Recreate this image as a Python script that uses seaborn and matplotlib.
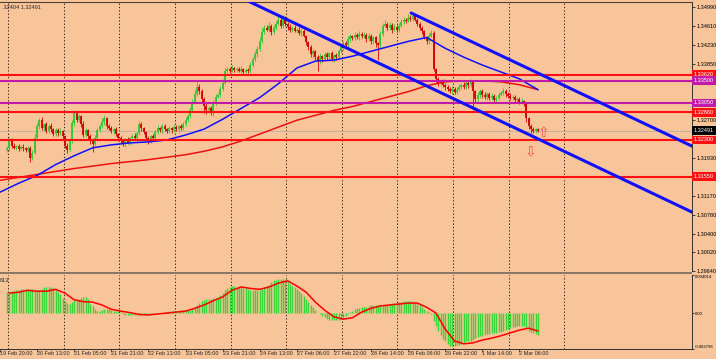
import numpy as np
import matplotlib
matplotlib.use("Agg")
import matplotlib.pyplot as plt
import matplotlib.transforms as mtransforms
import seaborn as sns

# ---- hourly candles (bars 3..232), prices ----
first_open = 1.3210
closes = [1.3214, 1.3230, 1.3218, 1.3214, 1.3218, 1.3212, 1.3216, 1.3214, 1.3210, 1.3214,
          1.3194, 1.3204, 1.3234, 1.3258, 1.3270, 1.3254, 1.3262, 1.3248, 1.3258, 1.3252,
          1.3242, 1.3250, 1.3244, 1.3248, 1.3238, 1.3218, 1.3210, 1.3228, 1.3264, 1.3284,
          1.3270, 1.3278, 1.3262, 1.3240, 1.3250, 1.3238, 1.3230, 1.3222, 1.3234, 1.3250,
          1.3258, 1.3266, 1.3274, 1.3258, 1.3254, 1.3248, 1.3252, 1.3242, 1.3234, 1.3228,
          1.3222, 1.3230, 1.3224, 1.3234, 1.3238, 1.3234, 1.3244, 1.3262, 1.3254, 1.3246,
          1.3234, 1.3228, 1.3238, 1.3234, 1.3246, 1.3254, 1.3250, 1.3258, 1.3252, 1.3248,
          1.3254, 1.3250, 1.3256, 1.3252, 1.3258, 1.3254, 1.3262, 1.3270, 1.3278, 1.3290,
          1.3308, 1.3324, 1.3338, 1.3330, 1.3314, 1.3298, 1.3290, 1.3294, 1.3284, 1.3304,
          1.3318, 1.3322, 1.3334, 1.3346, 1.3370, 1.3374, 1.3370, 1.3376, 1.3372, 1.3374,
          1.3370, 1.3374, 1.3368, 1.3372, 1.3370, 1.3382, 1.3394, 1.3404, 1.3414, 1.3430,
          1.3450, 1.3458, 1.3454, 1.3462, 1.3450, 1.3458, 1.3466, 1.3474, 1.3462, 1.3476,
          1.3466, 1.3460, 1.3454, 1.3458, 1.3452, 1.3454, 1.3448, 1.3452, 1.3442, 1.3428,
          1.3418, 1.3404, 1.3410, 1.3398, 1.3390, 1.3400, 1.3394, 1.3404, 1.3398, 1.3406,
          1.3394, 1.3402, 1.3398, 1.3410, 1.3418, 1.3426, 1.3422, 1.3434, 1.3440, 1.3436,
          1.3444, 1.3438, 1.3446, 1.3440, 1.3444, 1.3434, 1.3442, 1.3430, 1.3438, 1.3426,
          1.3422, 1.3446, 1.3462, 1.3466, 1.3458, 1.3464, 1.3454, 1.3460, 1.3454, 1.3462,
          1.3470, 1.3474, 1.3472, 1.3478, 1.3476, 1.3482, 1.3474, 1.3466, 1.3458, 1.3452,
          1.3438, 1.3430, 1.3442, 1.3448, 1.3374, 1.3354, 1.3344, 1.3348, 1.3342, 1.3338,
          1.3334, 1.3330, 1.3334, 1.3328, 1.3332, 1.3338, 1.3342, 1.3338, 1.3346, 1.3342,
          1.3348, 1.3330, 1.3314, 1.3322, 1.3330, 1.3322, 1.3318, 1.3324, 1.3316, 1.3320,
          1.3312, 1.3316, 1.3322, 1.3326, 1.3330, 1.3324, 1.3320, 1.3316, 1.3318, 1.3312,
          1.3314, 1.3308, 1.3310, 1.3302, 1.3274, 1.3258, 1.3252, 1.3248, 1.3252, 1.32491]
# wick lengths in pips above / below the body
upper_wick = [4, 6, 3, 5, 2, 4, 3, 5, 2, 4, 3, 5, 8, 6, 4, 7, 3, 5, 4, 6,
              3, 5, 4, 6, 3, 2, 5, 4, 7, 6, 4, 5, 3, 6, 4, 3, 5, 2, 6, 4,
              5, 8, 6, 3, 4, 5, 3, 4, 2, 5, 3, 4, 5, 3, 4, 6, 3, 7, 4, 3,
              2, 4, 3, 5, 4, 6, 3, 5, 4, 3, 4, 3, 5, 4, 3, 5, 4, 6, 5, 7,
              6, 8, 10, 5, 4, 3, 6, 5, 4, 7, 5, 4, 6, 8, 6, 5, 4, 6, 3, 5,
              4, 6, 3, 5, 4, 6, 5, 7, 6, 8, 7, 6, 5, 8, 4, 6, 5, 7, 6, 8,
              5, 4, 6, 3, 5, 4, 6, 3, 4, 2, 3, 4, 5, 3, 4, 6, 3, 5, 4, 3,
              4, 3, 5, 4, 6, 5, 4, 6, 5, 4, 6, 4, 5, 3, 6, 4, 5, 3, 4, 2,
              3, 6, 5, 7, 4, 5, 3, 6, 4, 5, 6, 5, 4, 7, 5, 6, 4, 3, 4, 3,
              2, 3, 5, 6, 4, 3, 4, 3, 5, 3, 4, 3, 5, 4, 6, 5, 4, 6, 3, 5,
              6, 3, 2, 5, 4, 3, 5, 4, 3, 5, 4, 3, 5, 4, 6, 4, 3, 5, 4, 3,
              4, 3, 5, 2, 3, 2, 4, 5, 3, 2]
lower_wick = [5, 6, 4, 3, 5, 4, 3, 6, 4, 5, 8, 5, 3, 4, 5, 3, 6, 4, 3, 5,
              4, 3, 5, 4, 8, 5, 6, 3, 4, 5, 3, 4, 6, 5, 4, 7, 8, 16, 4, 3,
              4, 3, 5, 6, 4, 3, 5, 4, 6, 5, 4, 6, 3, 5, 4, 3, 6, 4, 5, 4,
              5, 6, 4, 3, 5, 4, 3, 5, 4, 3, 4, 5, 3, 4, 5, 3, 4, 3, 4, 3,
              4, 3, 4, 6, 10, 14, 8, 6, 4, 5, 4, 3, 5, 4, 3, 5, 4, 3, 5, 4,
              3, 5, 4, 3, 5, 4, 3, 4, 5, 3, 4, 5, 3, 4, 6, 5, 4, 3, 5, 4,
              5, 6, 4, 5, 3, 4, 5, 6, 4, 5, 6, 5, 8, 6, 20, 5, 6, 4, 5, 6,
              4, 6, 5, 4, 3, 5, 4, 3, 5, 4, 4, 3, 5, 4, 3, 6, 4, 5, 6, 8,
              30, 5, 4, 3, 5, 4, 6, 3, 4, 5, 3, 4, 5, 3, 4, 5, 3, 4, 5, 6,
              4, 5, 6, 4, 5, 6, 5, 4, 5, 6, 4, 5, 6, 4, 5, 3, 4, 5, 4, 6,
              4, 40, 8, 5, 6, 7, 5, 6, 4, 5, 6, 4, 5, 3, 4, 6, 5, 4, 5, 6,
              4, 5, 6, 4, 8, 6, 8, 4, 3, 2]

# moving averages, read every 8 bars
ma_bars = list(range(0, 233, 8))
ma_fast = [1.3124, 1.3142, 1.3158, 1.3180, 1.3198, 1.3214, 1.3220, 1.3224, 1.3226, 1.3230,
           1.3240, 1.3252, 1.3272, 1.3294, 1.3316, 1.3344, 1.3376, 1.3390, 1.3392, 1.3400,
           1.3410, 1.3420, 1.3430, 1.3438, 1.3416, 1.3398, 1.3382, 1.3368, 1.3354, 1.3332]
ma_slow = [1.3148, 1.3154, 1.3160, 1.3166, 1.3172, 1.3177, 1.3182, 1.3186, 1.3190, 1.3195,
           1.3200, 1.3207, 1.3216, 1.3228, 1.3242, 1.3256, 1.3270, 1.3280, 1.3290, 1.3298,
           1.3308, 1.3318, 1.3328, 1.3340, 1.3348, 1.3350, 1.3350, 1.3348, 1.3342, 1.3332]

# MACD panel (units of 1e-3)
macd_hist = [2.2, 2.2, 2.3, 2.3, 2.4, 2.4, 2.5, 2.5, 2.5, 2.5, 2.5, 2.5, 2.4, 2.4, 2.4, 2.5, 2.7, 2.8, 2.8, 2.7,
             2.6, 2.4, 2.2, 2.0, 1.6, 1.3, 1.1, 1.0, 1.2, 1.4, 1.5, 1.5, 1.6, 1.7, 1.7, 1.5, 1.0, 0.7, 0.4, 0.2,
             0.2, 0.3, 0.4, 0.4, 0.4, 0.3, 0.2, 0.2, 0.2, 0.1, -0.1, -0.2, -0.25, -0.25, -0.2, -0.2, -0.2, -0.2, -0.2, -0.2,
             -0.2, -0.15, -0.1, -0.1, -0.05, 0.0, 0.05, 0.05, 0.1, 0.15, 0.2, 0.2, 0.2, 0.2, 0.25, 0.3, 0.3, 0.3, 0.3, 0.35,
             0.45, 0.6, 0.9, 1.1, 1.3, 1.4, 1.5, 1.5, 1.5, 1.55, 1.6, 1.65, 1.9, 2.1, 2.4, 2.6, 2.8, 2.85, 2.85, 2.8,
             2.75, 2.7, 2.6, 2.6, 2.5, 2.45, 2.4, 2.4, 2.4, 2.45, 2.55, 2.7, 2.85, 3.0, 3.3, 3.45, 3.5, 3.55, 3.6, 3.6,
             3.5, 3.3, 3.1, 2.9, 2.7, 2.5, 2.3, 2.1, 1.8, 1.5, 1.2, 0.9, 0.6, 0.35, 0.0, -0.15, -0.3, -0.45, -0.6, -0.7,
             -0.75, -0.75, -0.75, -0.7, -0.65, -0.5, -0.3, -0.1, 0.1, 0.25, 0.4, 0.5, 0.55, 0.6, 0.65, 0.65, 0.7, 0.8, 0.85, 0.85,
             0.85, 0.85, 0.85, 0.85, 0.9, 1.0, 1.05, 1.05, 1.1, 1.15, 1.2, 1.25, 1.25, 1.3, 1.3, 1.25, 1.15, 1.0, 0.8, 0.6,
             0.4, 0.2, 0.1, -0.05, -0.8, -1.4, -1.9, -2.3, -2.7, -3.0, -3.3, -3.5, -3.5, -3.5, -3.4, -3.35, -3.25, -3.15, -3.0, -2.95,
             -2.9, -2.8, -2.65, -2.5, -2.45, -2.4, -2.3, -2.25, -2.2, -2.15, -2.1, -2.1, -2.05, -2.0, -1.9, -1.8, -1.7, -1.6, -1.5, -1.45,
             -1.4, -1.35, -1.35, -1.4, -1.6, -1.85, -2.0, -2.1, -2.25, -2.3]
signal_bars = list(range(4, 233, 4))
macd_signal = [2.1, 2.2, 2.4, 2.3, 2.3, 2.5, 2.1, 1.4, 1.2, 1.15, 0.85, 0.4, 0.2, 0.05, -0.15, -0.2, -0.1, 0.0, 0.1, 0.2,
               0.5, 0.85, 1.3, 1.7, 2.4, 2.75, 2.6, 2.5, 2.75, 3.15, 3.4, 2.85, 2.2, 1.15, 0.3, -0.4, -0.65, -0.5, 0.1, 0.5,
               0.75, 0.85, 0.95, 1.05, 1.05, 0.6, 0.0, -1.7, -2.95, -3.25, -3.15, -2.85, -2.65, -2.4, -2.1, -1.8, -1.6, -1.9]

# objects on the chart
red_levels = [1.33620, 1.32860, 1.32300, 1.31550]
magenta_levels = [1.33500, 1.33050]
bid_price = 1.32491
trend_a_bars, trend_a_prices = [105.6, 300.0], [1.3515, 1.3080]
trend_b_bars, trend_b_prices = [177.3, 300.0], [1.34877, 1.32139]
price_ticks = [1.34990, 1.34610, 1.34230, 1.33850, 1.32700, 1.31930,
               1.31170, 1.30780, 1.30400, 1.30020, 1.29640]
time_labels = ["19 Feb 20:00", "20 Feb 13:00", "21 Feb 05:00", "21 Feb 21:00", "22 Feb 13:00",
               "23 Feb 05:00", "23 Feb 21:00", "24 Feb 13:00", "27 Feb 06:00", "27 Feb 22:00",
               "28 Feb 14:00", "29 Feb 06:00", "29 Feb 22:00", "1 Mar 14:00", "2 Mar 06:00"]

bg = "#f8c59a"
green = "#2ec82e"
red_c = "#d00000"
line_red = "#ff1010"
magenta = "#c21aa8"
blue = "#1010ff"

sns.set_style("white", {"axes.facecolor": bg, "figure.facecolor": bg})
plt.rcParams["font.family"] = ["Liberation Sans", "DejaVu Sans"]

W, H = 716, 359
fig = plt.figure(figsize=(W / 100, H / 100), dpi=100, facecolor=bg)
ax = fig.add_axes([0, (H - 271) / H, 692 / W, 269 / H])
ax2 = fig.add_axes([0, (H - 349) / H, 692 / W, 74 / H], sharex=ax)

bars = np.arange(3, 3 + len(closes))
closes = np.array(closes)
opens = np.concatenate([[first_open], closes[:-1]])
highs = np.maximum(opens, closes) + np.array(upper_wick) / 1e4
lows = np.minimum(opens, closes) - np.array(lower_wick) / 1e4
cols = np.where(closes >= opens, green, red_c)

grid_bars = np.arange(4, 245, 24) - 0.6
for a in (ax, ax2):
    for g in grid_bars:
        a.axvline(g, color="black", lw=0.6, ls=(0, (1.5, 2.5)), zorder=1)

# candles
ax.vlines(bars, lows, highs, colors=cols, lw=0.6, zorder=3)
ax.vlines(bars, opens, closes, colors=cols, lw=1.3, zorder=3)

# moving averages
sns.lineplot(x=ma_bars, y=ma_slow, ax=ax, color="#ee1010", lw=1.1, legend=False, zorder=4)
sns.lineplot(x=ma_bars, y=ma_fast, ax=ax, color=blue, lw=1.1, legend=False, zorder=4)

# horizontal levels
ax.axhline(bid_price, color="#b8b0a8", lw=0.6, zorder=2)
for lv in red_levels:
    ax.axhline(lv, color=line_red, lw=1.5, zorder=5)
for lv in magenta_levels:
    ax.axhline(lv, color=magenta, lw=1.5, zorder=5)

# trend channel
ax.plot(trend_a_bars, trend_a_prices, color=blue, lw=2.2, zorder=6)
ax.plot(trend_b_bars, trend_b_prices, color=blue, lw=2.2, zorder=6)

# arrows
ax.text(234.4, 1.3245, "\u21e7", color="#ff4a4a", fontsize=10, ha="center", va="center", zorder=7)
ax.text(228.9, 1.3207, "\u21e9", color="#ff4a4a", fontsize=10, ha="center", va="center", zorder=7)

ax.set_xlim(3.2, 298.4)
ax.set_ylim(1.2964, 1.3510)

# right price scale
ax.yaxis.tick_right()
ax.set_yticks(price_ticks)
ax.set_yticklabels([f"{t:.5f}" for t in price_ticks])
ax.tick_params(axis="y", labelsize=4, length=2, width=0.5, pad=1, colors="black", right=True)
ax.tick_params(axis="x", bottom=False, labelbottom=False)

trans = mtransforms.blended_transform_factory(ax.transAxes, ax.transData)
boxes = [(lv, line_red, "white") for lv in red_levels] + \
        [(lv, magenta, "white") for lv in magenta_levels] + [(bid_price, "black", "white")]
for lv, fc, tc in boxes:
    ax.text(1.003, lv, f"{lv:.5f}", transform=trans, fontsize=4, color=tc, ha="left", va="center",
            bbox=dict(boxstyle="square,pad=0.35", fc=fc, ec="none"), clip_on=False, zorder=8)

ax.text(0.003, 0.99, ".32404 1.32491", transform=ax.transAxes, fontsize=4, ha="left", va="top")

# MACD panel
hist = np.array(macd_hist) / 1e3
ax2.vlines(bars, 0, hist, colors="#38d438", lw=1.0, zorder=3)
sns.lineplot(x=signal_bars, y=np.array(macd_signal) / 1e3, ax=ax2, color="#ff0000", lw=1.1,
             legend=False, zorder=4)
ax2.set_ylim(-0.003796, 0.004014)
ax2.yaxis.tick_right()
ax2.set_yticks([0.004014, 0.0, -0.003796])
ax2.set_yticklabels(["0.004014", "0.00", "-0.003796"])
ax2.tick_params(axis="y", labelsize=3.1, length=1.5, width=0.5, pad=0.5, colors="black", right=True)
lbls = ax2.get_yticklabels()
lbls[0].set_va("top")
lbls[2].set_va("bottom")
ax2.set_xticks(range(0, 225, 16))
ax2.tick_params(axis="x", labelbottom=False, length=2, width=0.5, bottom=True, direction="out")
ax2.text(0.0, 0.93, "613", transform=ax2.transAxes, fontsize=4, ha="left", va="center")

ttrans = mtransforms.blended_transform_factory(ax2.transData, ax2.transAxes)
for k, lab in enumerate(time_labels):
    ax2.text(k * 16, -0.055, lab, transform=ttrans, fontsize=4, ha="left", va="center", clip_on=False)

for a in (ax, ax2):
    a.spines["left"].set_visible(False)
    a.spines["right"].set_color("#303030")
    a.spines["right"].set_linewidth(0.7)
    a.set_xlabel("")
    a.set_ylabel("")
ax.spines["bottom"].set_visible(False)
ax.spines["top"].set_color("#504030")
ax.spines["top"].set_linewidth(0.8)
ax2.spines["top"].set_visible(False)
ax2.spines["bottom"].set_color("#303030")
ax2.spines["bottom"].set_linewidth(0.7)

# separator between the two panes
fig.add_artist(plt.Rectangle((0, (H - 274) / H), 692 / W, 2.5 / H, transform=fig.transFigure,
                             color="#8a7866", lw=0))

fig.savefig("out.png", dpi=100, facecolor=bg)
